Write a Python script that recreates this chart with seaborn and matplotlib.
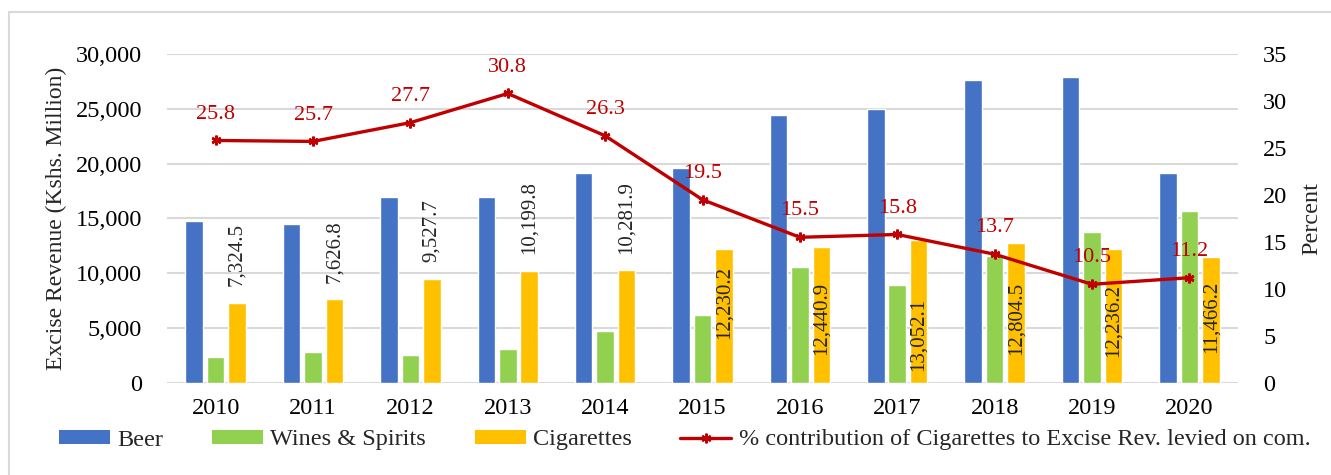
import numpy as np
import pandas as pd
import matplotlib
matplotlib.use("Agg")
import matplotlib.pyplot as plt
from matplotlib.patches import Rectangle, Patch
from matplotlib.lines import Line2D
from matplotlib.ticker import FuncFormatter, MultipleLocator
import seaborn as sns

# Excise revenue by commodity (Kshs. Million)
years = ["2010", "2011", "2012", "2013", "2014", "2015", "2016", "2017", "2018", "2019", "2020"]
beer = [14750, 14500, 16930, 16930, 19120, 19600, 24470, 24950, 27630, 27870, 19120]
wines_spirits = [2340, 2830, 2580, 3070, 4770, 6230, 10600, 8900, 11580, 13770, 15710]
cigarettes = [7324.5, 7626.8, 9527.7, 10199.8, 10281.9, 12230.2, 12440.9, 13052.1, 12804.5, 12236.2, 11466.2]
# Share of cigarettes in excise revenue levied on commodities (%)
pct_cigarettes = [25.8, 25.7, 27.7, 30.8, 26.3, 19.5, 15.5, 15.8, 13.7, 10.5, 11.2]

series_names = ["Beer", "Wines & Spirits", "Cigarettes"]
line_name = "% contribution of Cigarettes to Excise Rev. levied on com."

# Layout for the rotated cigarette labels (2015 onward sit inside the bar)
inside_from = 5
inside_label_base = [4000, 2550, 1100, 2550, 2370, 2730]

colors = {"Beer": "#4472C4", "Wines & Spirits": "#92D050", "Cigarettes": "#FFC000"}
red = "#C00000"
grid_grey = "#D9D9D9"

df = pd.DataFrame({
    "Year": years * 3,
    "Series": [s for s in series_names for _ in years],
    "Value": beer + wines_spirits + cigarettes,
})

sns.set_theme(style="white")
plt.rcParams["font.family"] = ["Liberation Serif", "DejaVu Serif"]

fig = plt.figure(figsize=(13.31, 4.75), dpi=100)
ax = fig.add_axes([167 / 1331, 1 - 383 / 475, (1238 - 167) / 1331, (383 - 54) / 475])

sns.barplot(data=df, x="Year", y="Value", hue="Series", hue_order=series_names,
            palette=colors, width=0.66, gap=0.18, saturation=1, legend=False,
            errorbar=None, ax=ax, zorder=2)

ax.set_ylim(0, 30000)
ax.yaxis.set_major_locator(MultipleLocator(5000))
ax.yaxis.set_major_formatter(FuncFormatter(lambda v, p: f"{int(v):,}"))
ax.set_xlim(-0.5, len(years) - 0.5)
ax.grid(axis="y", color=grid_grey, linewidth=1.5, zorder=0)
ax.set_axisbelow(True)
for s in ax.spines.values():
    s.set_visible(False)
ax.tick_params(axis="both", length=0, labelsize=17.5, colors="black")
ax.tick_params(axis="y", pad=18)
ax.tick_params(axis="x", pad=11)
ax.set_xlabel("")
ax.set_ylabel("Excise Revenue (Kshs. Million)", fontsize=17, labelpad=6)

# Cigarette value labels, rotated
cig_bars = ax.containers[2]
for i, (bar, val) in enumerate(zip(cig_bars, cigarettes)):
    xc = bar.get_x() + bar.get_width() / 2
    txt = f"{val:,.1f}"
    if i < inside_from:
        ax.annotate(txt, (xc, val), xytext=(0, 12), textcoords="offset points",
                    rotation=90, ha="center", va="bottom", fontsize=15, zorder=5)
    else:
        ax.text(xc, inside_label_base[i - inside_from], txt, rotation=90,
                ha="center", va="bottom", fontsize=15, zorder=5)

# Percentage line on the secondary axis
ax2 = ax.twinx()
sns.lineplot(x=np.arange(len(years)), y=pct_cigarettes, ax=ax2, color=red,
             linewidth=2.4, marker=(6, 2, 0), markersize=7, markeredgewidth=1.8,
             markeredgecolor=red, zorder=4)
ax2.set_ylim(0, 35)
ax2.yaxis.set_major_locator(MultipleLocator(5))
for s in ax2.spines.values():
    s.set_visible(False)
ax2.tick_params(axis="y", length=0, labelsize=17.5, pad=18, colors="black")
ax2.set_ylabel("Percent", fontsize=17.5, labelpad=10)
for i, p in enumerate(pct_cigarettes):
    ax2.annotate(f"{p:.1f}", (i, p), xytext=(0, 19), textcoords="offset points",
                 ha="center", va="center", color=red, fontsize=16)

# Legend along the bottom
handles = [Patch(facecolor=colors[n], edgecolor="none") for n in series_names]
handles.append(Line2D([], [], color=red, linewidth=2.4, marker=(6, 2, 0),
                      markersize=7, markeredgewidth=1.5))
fig.legend(handles, series_names + [line_name], loc="center left",
           bbox_to_anchor=(59 / 1331, 1 - 440 / 475), ncol=4, frameon=False,
           fontsize=17.5, handlelength=2.1, handleheight=0.55, handletextpad=0.3,
           columnspacing=2.0, borderpad=0, borderaxespad=0)

# Chart border
fig.patches.append(Rectangle((9 / 1331, -0.2), 1.2, 1 - 12 / 475 + 0.2,
                             transform=fig.transFigure, fill=False,
                             edgecolor=grid_grey, linewidth=1.5))

fig.savefig("out.png", dpi=100)
